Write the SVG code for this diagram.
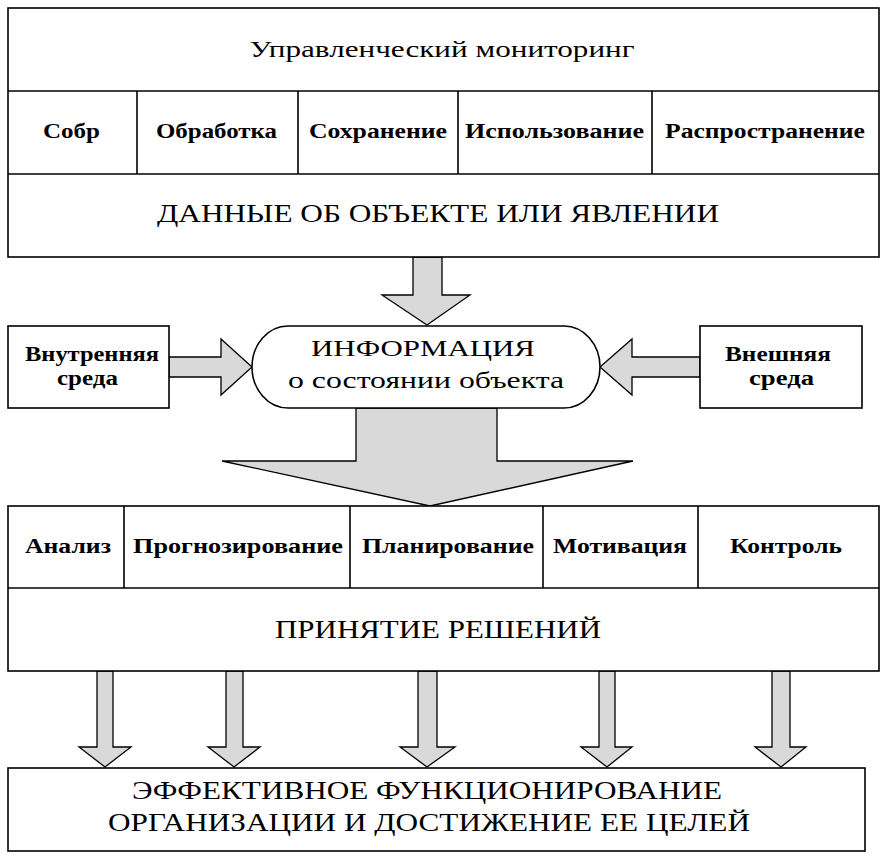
<svg xmlns="http://www.w3.org/2000/svg" width="887" height="860" viewBox="0 0 887 860">
<style>
.box{fill:#fff;stroke:#000;stroke-width:1.6}
.ln{stroke:#000;stroke-width:1.6;fill:none}
.arr{fill:#d9d9d9;stroke:#000;stroke-width:1.3;stroke-linejoin:miter}
.t{font-family:"Liberation Serif","Times New Roman",serif;fill:#000;text-anchor:middle}
.s{font-size:20px;font-weight:bold}
.m{font-size:23px}
.l{font-size:25px}
</style>
<rect width="887" height="860" fill="#fff"/>
<g id="connectors">
<polygon class="arr" points="413,257 442,257 442,295 470,295 427,325 382,295 413,295"/>
<polygon class="arr" points="169,357 221,357 221,339 252,367 221,395 221,377 169,377"/>
<polygon class="arr" points="700,357 632,357 632,339 600,367 632,395 632,377 700,377"/>
<polygon class="arr" points="356,408 497,408 497,461 633,461 430,506 222,461 356,461"/>
<polygon class="arr" points="97,671 113,671 113,747 131,747 105,767 79,747 97,747"/>
<polygon class="arr" points="226,671 243,671 243,747 260,747 234,767 208,747 226,747"/>
<polygon class="arr" points="418,671 437,671 437,747 455,747 427,767 400,747 418,747"/>
<polygon class="arr" points="599,671 615,671 615,747 632,747 607,767 581,747 599,747"/>
<polygon class="arr" points="772,671 790,671 790,747 806,747 781,767 755,747 772,747"/>
</g>
<g id="monitoring">
<rect class="box" x="8" y="8" width="871" height="249"/>
<line class="ln" x1="8" y1="91" x2="879" y2="91"/>
<line class="ln" x1="8" y1="174" x2="879" y2="174"/>
<line class="ln" x1="137" y1="91" x2="137" y2="174"/>
<line class="ln" x1="298" y1="91" x2="298" y2="174"/>
<line class="ln" x1="458" y1="91" x2="458" y2="174"/>
<line class="ln" x1="652" y1="91" x2="652" y2="174"/>
<text class="t m" x="442" y="57" textLength="385" lengthAdjust="spacingAndGlyphs">Управленческий мониторинг</text>
<text class="t s" x="71.5" y="138" textLength="57" lengthAdjust="spacingAndGlyphs">Собр</text>
<text class="t s" x="216.5" y="138" textLength="121" lengthAdjust="spacingAndGlyphs">Обработка</text>
<text class="t s" x="378" y="138" textLength="138" lengthAdjust="spacingAndGlyphs">Сохранение</text>
<text class="t s" x="554.5" y="138" textLength="179" lengthAdjust="spacingAndGlyphs">Использование</text>
<text class="t s" x="765" y="138" textLength="200" lengthAdjust="spacingAndGlyphs">Распространение</text>
<text class="t l" x="438" y="222" textLength="562" lengthAdjust="spacingAndGlyphs">ДАННЫЕ ОБ ОБЪЕКТЕ ИЛИ ЯВЛЕНИИ</text>
</g>
<g id="internal">
<rect class="box" x="8" y="326" width="161" height="82"/>
<text class="t s" x="92" y="361" textLength="134" lengthAdjust="spacingAndGlyphs">Внутренняя</text>
<text class="t s" x="87.5" y="385" textLength="61" lengthAdjust="spacingAndGlyphs">среда</text>
</g>
<g id="information">
<rect class="box" x="252" y="326" width="348" height="82" rx="36" ry="41"/>
<text class="t m" x="423" y="356" textLength="224" lengthAdjust="spacingAndGlyphs">ИНФОРМАЦИЯ</text>
<text class="t m" x="426" y="388" textLength="276" lengthAdjust="spacingAndGlyphs">о состоянии объекта</text>
</g>
<g id="external">
<rect class="box" x="700" y="326" width="162" height="82"/>
<text class="t s" x="778" y="361" textLength="106" lengthAdjust="spacingAndGlyphs">Внешняя</text>
<text class="t s" x="781.5" y="385" textLength="65" lengthAdjust="spacingAndGlyphs">среда</text>
</g>
<g id="decisions">
<rect class="box" x="8" y="506" width="871" height="165"/>
<line class="ln" x1="8" y1="588" x2="879" y2="588"/>
<line class="ln" x1="124" y1="506" x2="124" y2="588"/>
<line class="ln" x1="350" y1="506" x2="350" y2="588"/>
<line class="ln" x1="543" y1="506" x2="543" y2="588"/>
<line class="ln" x1="698" y1="506" x2="698" y2="588"/>
<text class="t s" x="68" y="553" textLength="86" lengthAdjust="spacingAndGlyphs">Анализ</text>
<text class="t s" x="238" y="553" textLength="210" lengthAdjust="spacingAndGlyphs">Прогнозирование</text>
<text class="t s" x="448" y="553" textLength="172" lengthAdjust="spacingAndGlyphs">Планирование</text>
<text class="t s" x="620" y="553" textLength="134" lengthAdjust="spacingAndGlyphs">Мотивация</text>
<text class="t s" x="786" y="553" textLength="112" lengthAdjust="spacingAndGlyphs">Контроль</text>
<text class="t l" x="438" y="638" textLength="326" lengthAdjust="spacingAndGlyphs">ПРИНЯТИЕ РЕШЕНИЙ</text>
</g>
<g id="result">
<rect class="box" x="8" y="768" width="857" height="83"/>
<text class="t l" x="427" y="799" textLength="590" lengthAdjust="spacingAndGlyphs">ЭФФЕКТИВНОЕ ФУНКЦИОНИРОВАНИЕ</text>
<text class="t l" x="429" y="831" textLength="642" lengthAdjust="spacingAndGlyphs">ОРГАНИЗАЦИИ И ДОСТИЖЕНИЕ ЕЕ ЦЕЛЕЙ</text>
</g>
</svg>
